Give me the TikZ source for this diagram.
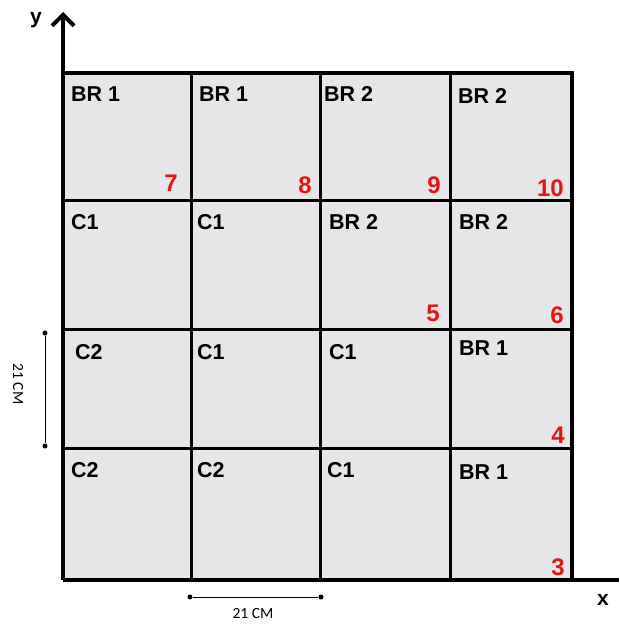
\documentclass[tikz,border=0pt]{standalone}
\usepackage{fontspec}
\setmainfont{Liberation Sans}
\newfontfamily\dimfont{Carlito}
\usetikzlibrary{arrows.meta}
\definecolor{cellgray}{RGB}{230,229,231}
\definecolor{numred}{RGB}{230,20,20}
\tikzset{
  lbl/.style={anchor=west, font=\fontsize{21.5}{21.5}\selectfont\bfseries, inner sep=0pt},
  num/.style={anchor=base east, font=\fontsize{24}{24}\selectfont\bfseries, text=numred, inner sep=0pt},
  gridline/.style={line width=3pt},
  outerline/.style={line width=4pt},
  axis/.style={line width=4pt},
  dimline/.style={line width=1pt},
  dimlbl/.style={font=\dimfont\fontsize{15.5}{15.5}\selectfont, inner sep=0pt},
  dot/.style={circle, fill=black, inner sep=0pt, minimum size=5pt}
}
\begin{document}
\begin{tikzpicture}[x=1pt,y=-1pt]
\useasboundingbox (0,0) rectangle (619,626);
% cells background
\fill[cellgray] (63,73) rectangle (572,580);
% inner grid lines
\draw[gridline] (191,73) -- (191,580);
\draw[gridline] (320,73) -- (320,580);
\draw[gridline] (450,73) -- (450,580);
\draw[gridline] (63,200) -- (572,200);
\draw[gridline] (63,329) -- (572,329);
\draw[gridline] (63,448) -- (572,448);
\draw[outerline] (63,73) -- (572,73) -- (572,580);
% axes
\coordinate (O) at (63,580);
\coordinate (ytip) at (63,12);
\coordinate (xtip) at (619,580);
\draw[axis, -{Straight Barb[length=11pt,width=22pt,line width=4pt]}] (O) -- (ytip);
\draw[axis] (O) -- (xtip);
\node[font=\fontsize{21}{21}\selectfont\bfseries, inner sep=0pt] (ylab) at (36,20) {y};
\node[font=\fontsize{21}{21}\selectfont\bfseries, inner sep=0pt] (xlab) at (603,600) {x};
% labels row 1
\node[lbl] (a1) at (71,94) {BR 1};
\node[lbl] (a2) at (199,94) {BR 1};
\node[lbl] (a3) at (324,94) {BR 2};
\node[lbl] (a4) at (458,96) {BR 2};
% row 2
\node[lbl] (b1) at (71,222) {C1};
\node[lbl] (b2) at (197,222) {C1};
\node[lbl] (b3) at (329,222) {BR 2};
\node[lbl] (b4) at (459,222) {BR 2};
% row 3
\node[lbl] (c1) at (75,352) {C2};
\node[lbl] (c2) at (197,352) {C1};
\node[lbl] (c3) at (329,352) {C1};
\node[lbl] (c4) at (459,348) {BR 1};
% row 4
\node[lbl] (d1) at (71,470) {C2};
\node[lbl] (d2) at (197,470) {C2};
\node[lbl] (d3) at (327,470) {C1};
\node[lbl] (d4) at (459,472) {BR 1};
% red numbers
\node[num] (n7) at (178,191) {7};
\node[num] (n8) at (312,193) {8};
\node[num] (n9) at (441,193) {9};
\node[num] (n10) at (564,196) {10};
\node[num] (n5) at (440,321) {5};
\node[num] (n6) at (564,323) {6};
\node[num] (n4) at (565,443) {4};
\node[num] (n3) at (565,575) {3};
% dimension lines
\node[dot] (v1) at (45,333) {};
\node[dot] (v2) at (45,446) {};
\draw[dimline] (v1) -- (v2);
\node[dimlbl, rotate=-90] (vl) at (18,384) {21 CM};
\node[dot] (h1) at (190,597) {};
\node[dot] (h2) at (321,597) {};
\draw[dimline] (h1) -- (h2);
\node[dimlbl] (hl) at (253,614) {21 CM};
\end{tikzpicture}
\end{document}
